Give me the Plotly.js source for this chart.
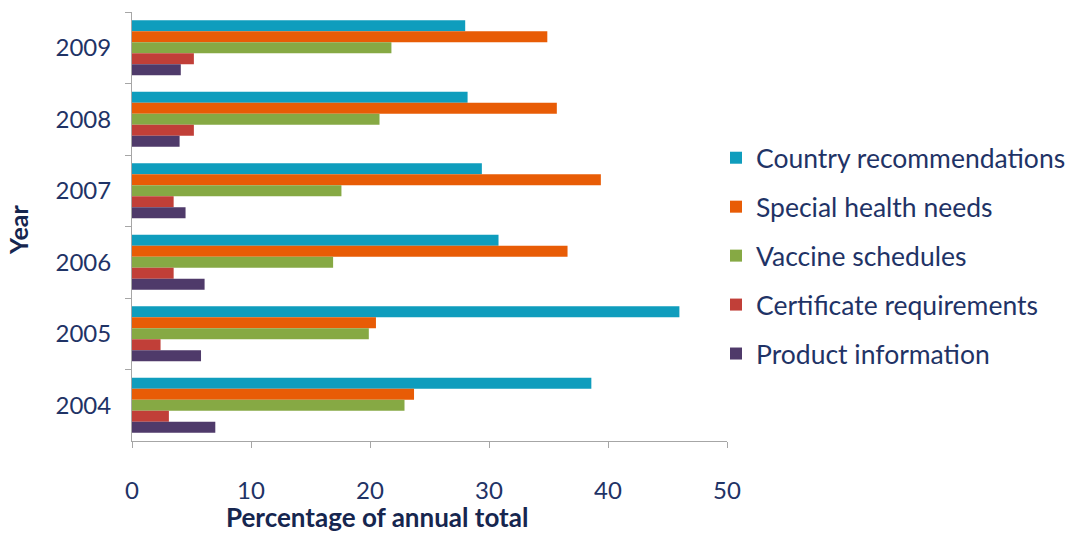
<!DOCTYPE html>
<html>
<head>
<meta charset="utf-8">
<script src="https://cdn.plot.ly/plotly-3.0.1.min.js"></script>
<style>html,body{margin:0;padding:0;background:#fff}#chart{width:1070px;height:535px}</style>
</head>
<body>
<div id="chart"></div>
<script>
var years = ['2009', '2008', '2007', '2006', '2005', '2004'];
var seriesNames = ['Country recommendations', 'Special health needs', 'Vaccine schedules', 'Certificate requirements', 'Product information'];
var countryRecommendations = [28.0, 28.2, 29.4, 30.8, 46.0, 38.6];
var specialHealthNeeds = [34.9, 35.7, 39.4, 36.6, 20.5, 23.7];
var vaccineSchedules = [21.8, 20.8, 17.6, 16.9, 19.9, 22.9];
var certificateRequirements = [5.2, 5.2, 3.5, 3.5, 2.4, 3.1];
var productInformation = [4.1, 4.0, 4.5, 6.1, 5.8, 7.0];
var xTicks = [0, 10, 20, 30, 40, 50];

var values = [countryRecommendations, specialHealthNeeds, vaccineSchedules, certificateRequirements, productInformation];
var colors = ['#0f9dbd', '#e85c06', '#86a944', '#c13f38', '#4f3a6a'];
var textColor = '#1f3366';
var titleColor = '#16264f';
var fontFam = 'Lato, "Open Sans", sans-serif';

var traces = seriesNames.map(function (name, i) {
  return {
    type: 'bar',
    orientation: 'h',
    name: name,
    y: years,
    x: values[i],
    legendgroup: 'g' + i,
    marker: {color: colors[i], line: {width: 0}},
    hoverinfo: 'x+name'
  };
});

var layout = {
  width: 1070,
  height: 535,
  margin: {l: 132, r: 343, t: 12, b: 94, autoexpand: false},
  paper_bgcolor: '#ffffff',
  plot_bgcolor: '#ffffff',
  barmode: 'group',
  bargap: 0.23,
  bargroupgap: 0,
  font: {family: fontFam, color: textColor, size: 24},
  showlegend: true,
  legend: {
    x: (716 - 132) / 595, xanchor: 'left', xref: 'paper',
    y: (441 - 256) / 429, yanchor: 'middle',
    traceorder: 'grouped',
    tracegroupgap: 11.5,
    font: {family: fontFam, size: 26.5, color: textColor},
    itemwidth: 30,
    bgcolor: 'rgba(0,0,0,0)'
  },
  xaxis: {
    range: [0, 50],
    tickvals: xTicks,
    ticktext: xTicks.map(String),
    showgrid: false,
    zeroline: false,
    showline: true,
    linecolor: '#a6a6a6',
    linewidth: 1,
    ticks: 'outside',
    ticklen: 6,
    tickcolor: '#a6a6a6',
    ticklabelstandoff: 22,
    tickfont: {family: fontFam, size: 24, color: textColor},
    fixedrange: true
  },
  yaxis: {
    type: 'category',
    categoryorder: 'array',
    categoryarray: years,
    autorange: 'reversed',
    showgrid: false,
    zeroline: false,
    showline: true,
    linecolor: '#a6a6a6',
    linewidth: 1,
    ticks: 'outside',
    tickson: 'boundaries',
    ticklen: 6,
    tickcolor: '#a6a6a6',
    ticklabelstandoff: 15,
    tickfont: {family: fontFam, size: 24, color: textColor},
    fixedrange: true
  },
  annotations: [
    {
      text: '<b>Percentage of annual total</b>',
      xref: 'paper', yref: 'paper',
      x: (377 - 132) / 595, y: -(534 - 441) / 429,
      xanchor: 'center', yanchor: 'bottom',
      showarrow: false,
      borderpad: 0,
      font: {family: fontFam, size: 26, color: titleColor}
    },
    {
      text: '<b>Year</b>',
      xref: 'paper', yref: 'paper',
      x: -(132 - 18) / 595, y: (441 - 230) / 429,
      xanchor: 'center', yanchor: 'middle',
      textangle: -90,
      showarrow: false,
      font: {family: fontFam, size: 25, color: titleColor}
    }
  ]
};

Plotly.newPlot('chart', traces, layout, {displayModeBar: false, staticPlot: true});
</script>
</body>
</html>
